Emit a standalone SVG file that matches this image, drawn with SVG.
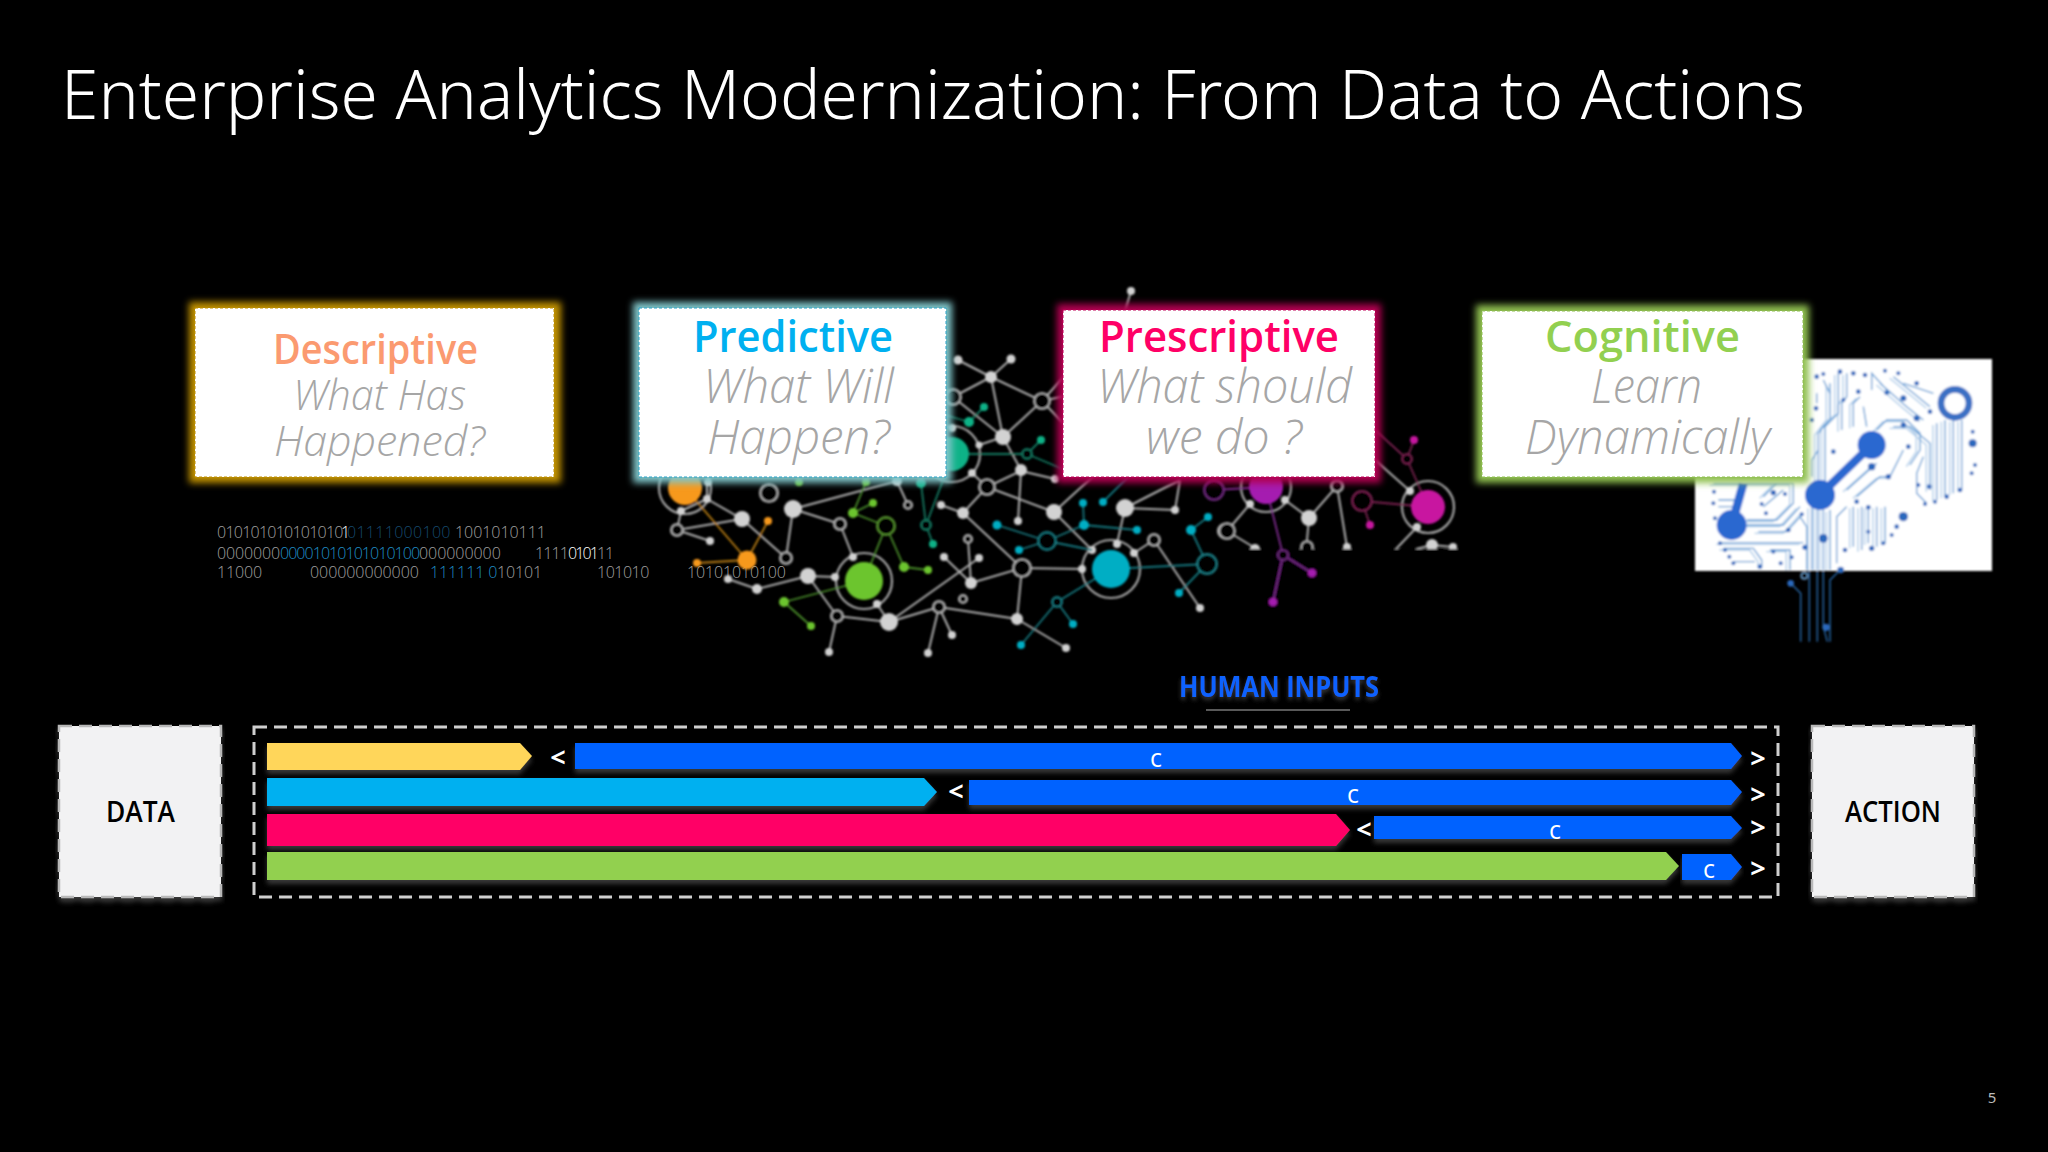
<svg xmlns="http://www.w3.org/2000/svg" width="2048" height="1152" viewBox="0 0 2048 1152">
<defs>
<style>
.t{font-family:"Noto Sans","Open Sans",sans-serif;font-weight:350}
.h{font-family:"Open Sans","Noto Sans",sans-serif;font-weight:600;font-size:44px}
.s{font-family:"Open Sans","Noto Sans",sans-serif;font-weight:300;font-style:italic;font-size:47px;fill:#a6a6a6}
.b{font-family:"Open Sans",sans-serif;font-weight:300;font-size:16px;fill:#a0a0a0}
.bl{fill:#1f8fc8}.db{fill:#154a6e}.w{fill:#fff}
.lab{font-family:"Open Sans","Noto Sans",sans-serif;font-weight:600;font-size:29px;fill:#000}
.c{font-family:"Open Sans",sans-serif;font-size:25px;fill:#fff;text-anchor:middle}
.a{font-family:"Open Sans",sans-serif;font-weight:700;font-size:27px;fill:#fff;text-anchor:middle}
.box{fill:#fff;stroke-width:1;stroke-dasharray:3 2}
.end{fill:#f2f2f3;stroke:#b8b8b8;stroke-width:2.5;stroke-dasharray:13 7}
.bar{filter:url(#sh)}
.g line{stroke:#b0b0b0;stroke-width:2}
.g circle{fill:#d2d2d2}
.g circle.r{fill:#000;stroke:#b0b0b0;stroke-width:2.2}
.g circle.big{fill:none;stroke:#a8a8a8;stroke-width:2.2}
.col line{stroke-width:1.8}
.o line{stroke:#b97d12}.o circle{fill:#f7991c}
.gr line{stroke:#4a8f2a}.gr circle{fill:#6cc52e}
.gr circle.r{fill:#000;stroke:#5a9c30;stroke-width:2}
.te line{stroke:#15777e}.te circle{fill:#00aec4}
.te circle.r{fill:#000;stroke:#1b7f86;stroke-width:2}
.tg line{stroke:#127a62}.tg circle{fill:#0fb287}
.tg circle.r{fill:#000;stroke:#127a62;stroke-width:2}
.pu line{stroke:#7d2a8f}.pu circle{fill:#a51fb0}
.pu circle.r{fill:#000;stroke:#6f2a80;stroke-width:2}
.mg line{stroke:#7a2050}.mg circle{fill:#c814a0}
.mg circle.r{fill:#000;stroke:#7a2050;stroke-width:2}
.tr{fill:none;stroke:#5f9bd4;stroke-width:4}
.tx{fill:none;stroke:#a9c9e8;stroke-width:4}
.tl{fill:none;stroke:#2b6fb5;stroke-width:4}
.dt circle{fill:#2a68bd}
</style>
<filter id="soft" x="-5%" y="-5%" width="110%" height="110%"><feGaussianBlur stdDeviation="0.8"/></filter>
<filter id="glow" x="-15%" y="-25%" width="130%" height="150%"><feGaussianBlur stdDeviation="3.5"/></filter>
<filter id="sh" x="-2%" y="-30%" width="104%" height="180%"><feDropShadow dx="0" dy="4" stdDeviation="2.5" flood-color="#666" flood-opacity="0.55"/></filter>
<filter id="ts" x="-5%" y="-20%" width="110%" height="160%"><feDropShadow dx="0" dy="3" stdDeviation="2" flood-color="#555" flood-opacity="0.7"/></filter>
<clipPath id="bc"><rect x="0" y="0" width="930" height="662"/></clipPath>
</defs>
<rect width="2048" height="1152" fill="#000"/>
<text class="t" x="61" y="119" font-size="68" fill="#fff" textLength="1744" lengthAdjust="spacingAndGlyphs">Enterprise Analytics Modernization: From Data to Actions</text>

<g id="binary">
<text class="b" y="538"><tspan x="217" letter-spacing="-0.75">010101010101010</tspan><tspan class="w" x="341">1</tspan><tspan class="db" x="347" letter-spacing="0.3">01111000100</tspan><tspan x="455" letter-spacing="-0.05">1001010111</tspan></text>
<text class="b" y="559"><tspan x="217" letter-spacing="-0.15">0000000</tspan><tspan class="bl" x="280" letter-spacing="-0.95">00001010101010100</tspan><tspan x="419" letter-spacing="-0.05">000000000</tspan><tspan x="535" letter-spacing="-0.9">1111</tspan><tspan class="w" x="568" letter-spacing="-1.9">0101</tspan><tspan x="597" letter-spacing="-1.15">11</tspan></text>
<text class="b" y="578"><tspan x="217" letter-spacing="-0.15">11000</tspan><tspan x="310" letter-spacing="-0.07">000000000000</tspan><tspan class="bl" x="430" letter-spacing="-0.1">111111 0</tspan><tspan x="497" letter-spacing="-0.15">10101</tspan><tspan x="597" letter-spacing="-0.48">101010</tspan><tspan x="687" letter-spacing="-0.15">10101010100</tspan></text>
</g>

<g id="network" filter="url(#soft)">
<g class="g">
<line x1="681" y1="511" x2="707" y2="499"/><line x1="707" y1="482" x2="707" y2="499"/><line x1="707" y1="499" x2="742" y2="519"/><line x1="681" y1="511" x2="677" y2="530"/><line x1="677" y1="530" x2="742" y2="519"/><line x1="677" y1="530" x2="710" y2="541"/><line x1="742" y1="519" x2="786" y2="558"/><line x1="793" y1="509" x2="786" y2="558"/><line x1="793" y1="509" x2="897" y2="481"/><line x1="793" y1="509" x2="840" y2="524"/><line x1="840" y1="524" x2="853" y2="557"/><line x1="835" y1="577" x2="808" y2="576"/><line x1="808" y1="576" x2="757" y2="589"/><line x1="757" y1="589" x2="728" y2="579"/><line x1="808" y1="576" x2="837" y2="616"/><line x1="837" y1="616" x2="889" y2="622"/><line x1="837" y1="616" x2="829" y2="652"/><line x1="889" y1="622" x2="877" y2="604"/><line x1="889" y1="622" x2="939" y2="607"/><line x1="889" y1="622" x2="979" y2="558"/><line x1="939" y1="607" x2="1017" y2="619"/><line x1="939" y1="607" x2="928" y2="653"/><line x1="939" y1="607" x2="952" y2="635"/><line x1="944" y1="557" x2="971" y2="583"/><line x1="968" y1="539" x2="971" y2="583"/><line x1="971" y1="583" x2="1022" y2="568"/><line x1="1022" y1="568" x2="1017" y2="619"/><line x1="963" y1="513" x2="1022" y2="568"/><line x1="941" y1="505" x2="963" y2="513"/><line x1="963" y1="513" x2="987" y2="487"/><line x1="987" y1="487" x2="972" y2="473"/><line x1="987" y1="487" x2="1021" y2="471"/><line x1="987" y1="487" x2="1054" y2="512"/><line x1="1021" y1="471" x2="1018" y2="521"/><line x1="1054" y1="512" x2="1092" y2="550"/><line x1="1054" y1="512" x2="1100" y2="470"/><line x1="1125" y1="508" x2="1175" y2="510"/><line x1="1125" y1="508" x2="1180" y2="480"/><line x1="1175" y1="510" x2="1180" y2="480"/><line x1="1125" y1="508" x2="1117" y2="544"/><line x1="1022" y1="568" x2="1082" y2="569"/><line x1="1017" y1="619" x2="1066" y2="648"/><line x1="1154" y1="540" x2="1200" y2="608"/><line x1="1154" y1="540" x2="1134" y2="553"/><line x1="897" y1="481" x2="908" y2="505"/><line x1="958" y1="360" x2="991" y2="377"/><line x1="1011" y1="359" x2="991" y2="377"/><line x1="991" y1="377" x2="1042" y2="401"/><line x1="991" y1="377" x2="953" y2="397"/><line x1="991" y1="377" x2="1003" y2="437"/><line x1="953" y1="397" x2="1003" y2="437"/><line x1="1042" y1="401" x2="1003" y2="437"/><line x1="1042" y1="401" x2="1070" y2="370"/><line x1="1042" y1="401" x2="1070" y2="395"/><line x1="1042" y1="401" x2="1070" y2="430"/><line x1="1003" y1="437" x2="979" y2="445"/><line x1="1003" y1="437" x2="1021" y2="470"/><line x1="1021" y1="471" x2="1055" y2="479"/><line x1="1131" y1="291" x2="1124" y2="315"/>
<line x1="1250" y1="504" x2="1227" y2="531"/><line x1="1285" y1="500" x2="1309" y2="518"/><line x1="1309" y1="518" x2="1337" y2="486"/><line x1="1337" y1="486" x2="1347" y2="547"/><line x1="1309" y1="518" x2="1307" y2="540"/><line x1="1227" y1="531" x2="1255" y2="548"/><line x1="1375" y1="460" x2="1410" y2="491"/><line x1="1417" y1="527" x2="1395" y2="550"/><line x1="1432" y1="545" x2="1416" y2="549"/><line x1="1432" y1="545" x2="1453" y2="547"/>
<circle class="big" cx="685" cy="488" r="26"/><circle class="big" cx="864" cy="581" r="28"/><circle class="big" cx="952" cy="454" r="28"/><circle class="big" cx="1111" cy="569" r="29"/><circle class="big" cx="1266" cy="487" r="25"/><circle class="big" cx="1428" cy="507" r="26"/>
<circle cx="708" cy="482" r="4"/><circle cx="707" cy="499" r="4"/><circle cx="681" cy="511" r="4"/><circle class="r" cx="677" cy="530" r="6"/><circle cx="742" cy="519" r="8"/><circle cx="710" cy="541" r="4"/><circle class="r" cx="786" cy="558" r="6"/><circle class="r" cx="769" cy="493" r="9"/><circle cx="793" cy="509" r="9"/><circle class="r" cx="840" cy="524" r="6"/><circle cx="897" cy="481" r="5"/><circle class="r" cx="908" cy="505" r="4"/><circle cx="853" cy="557" r="4"/><circle cx="835" cy="577" r="4"/><circle cx="877" cy="604" r="4"/><circle cx="808" cy="576" r="8"/><circle cx="757" cy="589" r="5"/><circle cx="728" cy="579" r="4"/><circle class="r" cx="837" cy="616" r="6"/><circle cx="889" cy="622" r="9"/><circle cx="829" cy="652" r="4"/><circle class="r" cx="939" cy="607" r="6"/><circle cx="952" cy="635" r="4"/><circle cx="928" cy="653" r="4"/><circle cx="963" cy="513" r="6"/><circle cx="941" cy="505" r="4"/><circle class="r" cx="987" cy="487" r="8"/><circle cx="972" cy="473" r="4"/><circle cx="1021" cy="470" r="6"/><circle cx="1018" cy="521" r="4"/><circle cx="1054" cy="512" r="8"/><circle cx="1125" cy="508" r="9"/><circle cx="1175" cy="510" r="4"/><circle class="r" cx="1022" cy="568" r="9"/><circle cx="944" cy="557" r="4"/><circle cx="979" cy="558" r="4"/><circle class="r" cx="968" cy="539" r="4"/><circle cx="971" cy="583" r="6"/><circle class="r" cx="963" cy="599" r="4"/><circle cx="1017" cy="619" r="6"/><circle cx="1066" cy="648" r="4"/><circle cx="1092" cy="550" r="4"/><circle cx="1117" cy="544" r="4"/><circle cx="1134" cy="553" r="4"/><circle cx="1082" cy="569" r="4"/><circle class="r" cx="1154" cy="540" r="6"/><circle cx="1200" cy="608" r="4"/><circle class="r" cx="1225" cy="531" r="7"/><circle cx="958" cy="360" r="4.5"/><circle cx="1011" cy="359" r="4.5"/><circle cx="991" cy="377" r="6"/><circle class="r" cx="1042" cy="401" r="8"/><circle class="r" cx="953" cy="397" r="8"/><circle cx="1003" cy="437" r="8"/><circle cx="979" cy="445" r="3.5"/><circle cx="952" cy="428" r="4"/><circle cx="1055" cy="479" r="4"/><circle cx="1131" cy="291" r="4"/>
<circle cx="1250" cy="504" r="4"/><circle cx="1285" cy="500" r="4"/><circle cx="1309" cy="518" r="8"/><circle class="r" cx="1227" cy="531" r="8"/><circle cx="1255" cy="549" r="5"/><circle cx="1347" cy="547" r="4"/><circle class="r" cx="1337" cy="486" r="6"/><circle class="r" cx="1307" cy="547" r="6"/><circle cx="1410" cy="491" r="4"/><circle cx="1417" cy="527" r="4"/><circle cx="1432" cy="545" r="6"/><circle cx="1453" cy="547" r="4"/>
</g>
<rect x="1232" y="549" width="240" height="70" fill="#000"/>
<g class="col o">
<line x1="685" y1="488" x2="747" y2="560"/><line x1="747" y1="560" x2="768" y2="521"/><line x1="747" y1="560" x2="697" y2="563"/>
<circle cx="685" cy="488" r="17"/><circle cx="747" cy="560" r="9.5"/><circle cx="768" cy="521" r="4"/><circle cx="697" cy="563" r="4"/>
</g>
<g class="col gr">
<line x1="864" y1="581" x2="784" y2="602"/><line x1="784" y1="602" x2="811" y2="626"/><line x1="864" y1="581" x2="886" y2="526"/><line x1="886" y1="526" x2="853" y2="513"/><line x1="853" y1="513" x2="873" y2="503"/><line x1="853" y1="513" x2="866" y2="482"/><line x1="886" y1="526" x2="904" y2="567"/><line x1="904" y1="567" x2="928" y2="570"/>
<circle class="r" cx="886" cy="526" r="9"/><circle cx="864" cy="581" r="19"/><circle cx="799" cy="482" r="4"/><circle cx="866" cy="482" r="4"/><circle cx="853" cy="513" r="5"/><circle cx="873" cy="503" r="4"/><circle cx="904" cy="567" r="5"/><circle cx="928" cy="570" r="4"/><circle cx="784" cy="602" r="5"/><circle cx="811" cy="626" r="4"/>
</g>
<g class="col tg">
<line x1="921" y1="483" x2="926" y2="525"/><line x1="926" y1="525" x2="933" y2="544"/><line x1="945" y1="475" x2="926" y2="525"/><line x1="952" y1="454" x2="1027" y2="454"/><line x1="1027" y1="454" x2="1041" y2="440"/><line x1="1027" y1="454" x2="1065" y2="470"/><line x1="969" y1="422" x2="984" y2="407"/><line x1="945" y1="415" x2="969" y2="422"/>
<circle cx="921" cy="483" r="5"/><circle class="r" cx="926" cy="525" r="5"/><circle cx="933" cy="544" r="4"/><circle cx="952" cy="454" r="17"/><circle class="r" cx="1027" cy="454" r="5"/><circle cx="1041" cy="440" r="4"/><circle cx="969" cy="422" r="5"/><circle cx="984" cy="407" r="4"/>
</g>
<g class="col te">
<line x1="997" y1="525" x2="1047" y2="541"/><line x1="1019" y1="550" x2="1047" y2="541"/><line x1="1047" y1="541" x2="1084" y2="525"/><line x1="1047" y1="541" x2="1092" y2="550"/><line x1="1084" y1="525" x2="1083" y2="503"/><line x1="1084" y1="525" x2="1137" y2="530"/><line x1="1103" y1="502" x2="1130" y2="475"/><line x1="1111" y1="569" x2="1207" y2="564"/><line x1="1207" y1="564" x2="1191" y2="530"/><line x1="1191" y1="530" x2="1208" y2="517"/><line x1="1207" y1="564" x2="1179" y2="593"/><line x1="1111" y1="569" x2="1057" y2="602"/><line x1="1057" y1="602" x2="1021" y2="645"/><line x1="1057" y1="602" x2="1073" y2="624"/>
<circle class="r" cx="1047" cy="541" r="9"/><circle class="r" cx="1207" cy="564" r="10"/><circle class="r" cx="1057" cy="602" r="5"/><circle cx="1111" cy="569" r="19"/><circle cx="997" cy="525" r="4.5"/><circle cx="1019" cy="550" r="4"/><circle cx="1083" cy="503" r="4"/><circle cx="1084" cy="525" r="5"/><circle cx="1137" cy="530" r="4"/><circle cx="1103" cy="502" r="4"/><circle cx="1179" cy="593" r="4"/><circle cx="1191" cy="530" r="5"/><circle cx="1208" cy="517" r="4"/><circle cx="1021" cy="645" r="4"/><circle cx="1073" cy="624" r="4"/>
</g>
<g class="col pu">
<line x1="1266" y1="487" x2="1283" y2="555"/><line x1="1283" y1="555" x2="1312" y2="573"/><line x1="1283" y1="555" x2="1273" y2="602"/><line x1="1214" y1="490" x2="1266" y2="487"/>
<circle class="r" cx="1214" cy="490" r="10"/><circle class="r" cx="1283" cy="555" r="5"/><circle cx="1266" cy="487" r="17"/><circle cx="1312" cy="573" r="4"/><circle cx="1273" cy="602" r="4"/>
</g>
<g class="col mg">
<line x1="1362" y1="501" x2="1428" y2="507"/><line x1="1362" y1="501" x2="1370" y2="525"/><line x1="1407" y1="459" x2="1414" y2="440"/><line x1="1407" y1="459" x2="1428" y2="507"/><line x1="1375" y1="430" x2="1407" y2="459"/>
<circle class="r" cx="1362" cy="501" r="10"/><circle class="r" cx="1407" cy="459" r="5"/><circle cx="1428" cy="507" r="17"/><circle cx="1370" cy="525" r="4"/><circle cx="1414" cy="440" r="4"/>
</g>
</g>

<g id="brain" filter="url(#soft)">
<rect x="1695" y="359" width="297" height="212" fill="#fff"/>
<g transform="translate(1690,350) scale(0.33333)">
<g clip-path="url(#bc)">
<g class="tx" transform="translate(-11,5)"><path d="M385 400V250L420 205V100M405 400V230L445 190V70M455 240V160L470 140V70M490 230V160L510 140M570 100L650 170L700 210M610 80L720 170M560 240L590 210H650L690 250V300L660 345M610 230H660L720 280V420M765 210V440M790 210V430M815 210V420M740 220V450"/><path d="M365 660V470M382 660V470M400 660V470M420 660V480M490 590V470M515 600V470M535 580V470M560 590V470M585 580V470M500 440L570 380L600 380M470 420L560 340"/><path d="M170 510H260L310 460V400M170 525H280L330 470M205 545H290L340 490M90 578H340M100 595H190L215 630V650M240 600H300V660M220 440L260 400L310 400M70 400H300"/></g>
<g class="tr"><path d="M385 400V250L420 205V100M405 400V230L445 190V70M365 380V330L385 300M455 240V160L470 140V70M490 230V160L510 140M530 230L520 170M545 120V70L600 130M570 100L650 170L700 210M610 80L720 170M640 100L730 130M560 240L590 210H650L690 250V300L660 345M610 230H660L720 280V420M640 300L600 380M765 210V440M790 210V430M815 210V420M740 220V450M700 320L680 370V430L710 460"/><path d="M350 660V530L330 500M365 660V470M382 660V470M400 660V470M420 660V480M440 640V500L470 470M490 590V470M515 600V470M535 580V470M560 590V470M585 580V470M500 440L570 380L600 380M470 420L560 340M380 130V160M400 90L420 130"/><path d="M85 450H150M170 510H260L310 460V400M170 525H280L330 470M205 545H290L340 490M90 578H340M100 595H190L215 630V650M130 635H195M240 600H300V660M220 440L260 400L310 400M70 400H300M85 470H150M220 470L280 420"/></g>
</g>
<path d="M545 285L390 435M160 400L125 525" fill="none" stroke="#2a68d0" stroke-width="26"/>
<circle cx="545" cy="285" r="42" fill="#2a68d0"/><circle cx="390" cy="435" r="45" fill="#2a68d0"/><circle cx="125" cy="525" r="45" fill="#2a68d0"/>
<circle cx="795" cy="160" r="42" fill="none" stroke="#3a6fc4" stroke-width="20"/>
<g class="dt">
<circle cx="380" cy="80" r="7"/><circle cx="400" cy="72" r="6"/><circle cx="450" cy="65" r="7"/><circle cx="490" cy="70" r="7"/><circle cx="525" cy="75" r="7"/><circle cx="585" cy="62" r="6"/><circle cx="625" cy="70" r="6"/><circle cx="680" cy="100" r="7"/><circle cx="640" cy="145" r="9"/><circle cx="720" cy="185" r="7"/><circle cx="680" cy="205" r="9"/><circle cx="640" cy="225" r="8"/><circle cx="378" cy="175" r="7"/><circle cx="365" cy="210" r="7"/><circle cx="430" cy="305" r="7"/><circle cx="460" cy="150" r="6"/><circle cx="505" cy="125" r="7"/><circle cx="590" cy="128" r="7"/><circle cx="848" cy="280" r="12"/><circle cx="848" cy="245" r="6"/><circle cx="855" cy="345" r="6"/><circle cx="845" cy="370" r="6"/><circle cx="810" cy="420" r="7"/><circle cx="770" cy="440" r="7"/><circle cx="735" cy="455" r="6"/><circle cx="705" cy="462" r="6"/><circle cx="718" cy="410" r="7"/><circle cx="685" cy="405" r="6"/><circle cx="655" cy="290" r="7"/><circle cx="595" cy="380" r="8"/><circle cx="545" cy="350" r="11"/><circle cx="500" cy="455" r="7"/><circle cx="535" cy="472" r="7"/><circle cx="640" cy="500" r="14"/><circle cx="620" cy="530" r="7"/><circle cx="605" cy="555" r="6"/><circle cx="580" cy="580" r="6"/><circle cx="545" cy="595" r="8"/><circle cx="535" cy="545" r="6"/><circle cx="400" cy="565" r="13"/><circle cx="465" cy="600" r="7"/><circle cx="345" cy="592" r="8"/><circle cx="452" cy="660" r="10"/><circle cx="250" cy="428" r="8"/><circle cx="285" cy="432" r="6"/><circle cx="215" cy="462" r="6"/><circle cx="228" cy="490" r="6"/><circle cx="335" cy="493" r="6"/><circle cx="295" cy="540" r="7"/><circle cx="72" cy="425" r="6"/><circle cx="70" cy="460" r="6"/><circle cx="75" cy="505" r="6"/><circle cx="90" cy="580" r="6"/><circle cx="105" cy="600" r="6"/><circle cx="118" cy="620" r="6"/><circle cx="130" cy="640" r="6"/><circle cx="210" cy="650" r="7"/><circle cx="250" cy="605" r="6"/><circle cx="272" cy="640" r="6"/><circle cx="305" cy="622" r="6"/><circle cx="302" cy="700" r="10"/><circle cx="408" cy="832" r="11"/>
</g>
<circle cx="343" cy="677" r="10" fill="#000" stroke="#6fa6d8" stroke-width="4"/>
<g class="tl"><path d="M302 700L332 730V875M358 662V875M382 662V875M400 662V830L412 875M420 875V690L450 660"/></g>
</g>
</g>

<g id="n-descriptive">
<rect x="189" y="302" width="372" height="181" fill="#bf9000" filter="url(#glow)"/>
<rect class="box" x="195" y="308" width="359" height="169" stroke="#bf9000"/>
<text class="h" x="273" y="364" fill="#fb9a70" textLength="205" lengthAdjust="spacingAndGlyphs" style="font-size:41px">Descriptive</text>
<text class="s" x="293" y="410" textLength="173" lengthAdjust="spacingAndGlyphs" style="font-size:43px">What Has</text>
<text class="s" x="274" y="456" textLength="211" lengthAdjust="spacingAndGlyphs" style="font-size:43px">Happened?</text>
</g>
<g id="n-predictive">
<rect x="633" y="302" width="319" height="181" fill="#7fc4c8" filter="url(#glow)"/>
<rect class="box" x="639" y="308" width="307" height="169" stroke="#2aa3c9"/>
<text class="h" x="693" y="352" fill="#00b0f0" textLength="200" lengthAdjust="spacingAndGlyphs">Predictive</text>
<text class="s" x="703" y="403" textLength="191" lengthAdjust="spacingAndGlyphs">What Will</text>
<text class="s" x="707" y="454" textLength="183" lengthAdjust="spacingAndGlyphs">Happen?</text>
</g>
<g id="n-prescriptive">
<rect x="1057" y="304" width="324" height="179" fill="#b00050" filter="url(#glow)"/>
<rect class="box" x="1063" y="310" width="312" height="167" stroke="#c00058"/>
<text class="h" x="1099" y="352" fill="#ff0066" textLength="240" lengthAdjust="spacingAndGlyphs">Prescriptive</text>
<text class="s" x="1097" y="403" textLength="255" lengthAdjust="spacingAndGlyphs">What should</text>
<text class="s" x="1146" y="454" textLength="156" lengthAdjust="spacingAndGlyphs">we do ?</text>
</g>
<g id="n-cognitive">
<rect x="1476" y="305" width="333" height="178" fill="#8fc050" filter="url(#glow)"/>
<rect class="box" x="1482" y="311" width="321" height="166" stroke="#8fc050"/>
<text class="h" x="1545" y="352" fill="#92d050" textLength="195" lengthAdjust="spacingAndGlyphs">Cognitive</text>
<text class="s" x="1591" y="403" textLength="111" lengthAdjust="spacingAndGlyphs">Learn</text>
<text class="s" x="1525" y="454" textLength="245" lengthAdjust="spacingAndGlyphs">Dynamically</text>
</g>

<g id="human-inputs">
<text x="1179" y="697" font-family="Open Sans,sans-serif" font-weight="700" font-size="28" fill="#0f62fe" textLength="200" lengthAdjust="spacingAndGlyphs" filter="url(#ts)">HUMAN INPUTS</text>
<line x1="1206" y1="710" x2="1350" y2="710" stroke="#777" stroke-width="1.5"/>
</g>
<g id="n-data">
<rect class="end" x="59" y="726" width="162" height="171" filter="url(#sh)"/>
<text class="lab" x="106" y="822" textLength="69" lengthAdjust="spacingAndGlyphs">DATA</text>
</g>
<g id="n-action">
<rect class="end" x="1812" y="726" width="162" height="171" filter="url(#sh)"/>
<text class="lab" x="1845" y="822" textLength="96" lengthAdjust="spacingAndGlyphs">ACTION</text>
</g>
<rect id="frame" x="254" y="727" width="1524" height="170" fill="none" stroke="#cfcfcf" stroke-width="3" stroke-dasharray="13 7"/>

<g id="connectors">
<polygon class="bar" points="267,743 520,743 532,756 520,770 267,770" fill="#ffd65a"/>
<polygon class="bar" points="267,778 924,778 937,792 924,806 267,806" fill="#00b0f0"/>
<polygon class="bar" points="267,814 1336,814 1350,830 1336,846 267,846" fill="#ff0066"/>
<polygon class="bar" points="267,852 1666,852 1679,866 1666,880 267,880" fill="#92d050"/>
<polygon class="bar" points="575,743 1731,743 1742,756 1731,769 575,769" fill="#0062ff"/>
<polygon class="bar" points="969,780 1731,780 1742,792 1731,805 969,805" fill="#0062ff"/>
<polygon class="bar" points="1374,816 1731,816 1742,828 1731,839 1374,839" fill="#0062ff"/>
<polygon class="bar" points="1682,854 1731,854 1742,867 1731,880 1682,880" fill="#0062ff"/>
<text class="c" x="1156" y="767">c</text><text class="c" x="1353" y="803">c</text><text class="c" x="1555" y="839">c</text><text class="c" x="1709" y="878">c</text>
<text class="a" x="558" y="767">&lt;</text><text class="a" x="956" y="801">&lt;</text><text class="a" x="1364" y="839">&lt;</text>
<text class="a" x="1758" y="768">&gt;</text><text class="a" x="1758" y="804">&gt;</text><text class="a" x="1758" y="837">&gt;</text><text class="a" x="1758" y="878">&gt;</text>
</g>
<text x="1992" y="1103" font-family="Noto Sans,sans-serif" font-size="15" fill="#bbb" text-anchor="middle">5</text>
</svg>
